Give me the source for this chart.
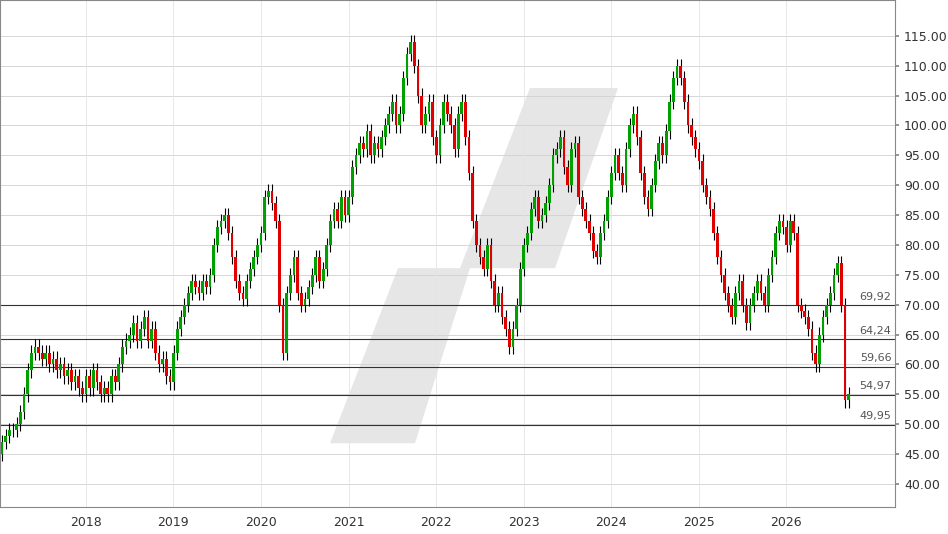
import numpy as np, pandas as pd, seaborn as sns, matplotlib
matplotlib.use("Agg")
import matplotlib.pyplot as plt
from matplotlib.patches import Polygon

# half-monthly closes, 2017 .. 2026
closes_2017 = [43,45,47,48,49,49,50,52,55,59,62,63,62,61,62,60,61,59,60,58,59,57,58,56]
closes_2018 = [55,58,56,59,57,55,56,55,58,57,60,63,64,65,67,64,66,68,64,66,62,60,61,58]
closes_2019 = [57,62,66,68,70,72,74,73,72,74,73,75,80,83,84,85,82,78,74,72,71,74,76,78]
closes_2020 = [80,82,88,89,87,84,70,62,72,75,78,72,70,71,73,75,78,74,76,80,84,86,84,88]
closes_2021 = [85,88,93,95,97,96,99,95,97,96,98,100,102,104,100,102,108,112,114,110,105,100,102,104]
closes_2022 = [98,95,100,104,102,100,96,102,104,98,92,84,80,78,76,80,74,70,72,68,66,63,66,70]
closes_2023 = [76,80,82,86,88,84,85,87,90,95,96,98,93,90,96,97,88,86,84,82,79,78,82,84]
closes_2024 = [88,92,95,92,90,96,100,102,98,92,88,86,90,94,97,95,99,104,108,110,108,104,100,98]
closes_2025 = [96,94,90,88,86,82,78,75,72,70,68,72,74,70,67,70,72,74,72,70,75,78,82,84]
closes_2026 = [83,80,84,82,70,69,68,66,62,60,65,68,70,72,75,77,70,54,55]
closes = (closes_2017 + closes_2018 + closes_2019 + closes_2020 + closes_2021 + closes_2022
          + closes_2023 + closes_2024 + closes_2025 + closes_2026)
levels = [69.92, 64.24, 59.66, 54.97, 49.95]
level_labels = ["69,92", "64,24", "59,66", "54,97", "49,95"]
years = list(range(2018, 2027))
yticks = list(range(40, 116, 5))

sns.set_theme(style="white")
fig = plt.figure(figsize=(9.48, 5.34), dpi=100)
ax = fig.add_axes([0.0, 0.05, 895/948, 0.95])

n = len(closes)
dt = 1 / 24
x = 2016.96 + np.arange(n) * dt
c = np.array(closes, float)
o = np.r_[c[0] - 1, c[:-1]]
hi = np.maximum(o, c) + 1.2
lo = np.minimum(o, c) - 1.2
up = c >= o
ax.vlines(x, lo, hi, color="black", lw=0.8, zorder=3)
ax.bar(x, c - o, bottom=o, width=dt * 0.75, color=np.where(up, "#00a000", "#e00000"),
       edgecolor="none", zorder=4)

# watermark
for pts in [[(330, 443), (415, 443), (470, 268), (398, 268)],
            [(460, 268), (555, 268), (618, 88), (530, 88)]]:
    ax.add_patch(Polygon([(px / 895, 1 - py / 507) for px, py in pts], closed=True,
                         transform=ax.transAxes, color="#e6e6e6", zorder=0, lw=0))

for y in yticks:
    ax.axhline(y, color="#d0d0d0", lw=0.6, zorder=1)
for yr in years:
    ax.axvline(yr, color="#e4e4e4", lw=0.6, zorder=1)
for lv, lb in zip(levels, level_labels):
    ax.axhline(lv, color="#333333", lw=0.8, zorder=2)
    ax.text(2027.2, lv + 0.6, lb, ha="right", va="bottom", fontsize=8, color="#555555", zorder=5)

ax.set_xlim(2017.02, 2027.24)
ax.set_ylim(36.1, 121)
ax.yaxis.tick_right()
ax.set_yticks(yticks)
ax.set_yticklabels([f"{v:.2f}" for v in yticks], fontsize=9, color="#333333")
ax.set_xticks(years)
ax.set_xticklabels([str(v) for v in years], fontsize=9, color="#333333")
ax.tick_params(axis="both", length=3, color="#888888")
for s in ax.spines.values():
    s.set_color("#888888"); s.set_linewidth(0.8)
fig.savefig("out.png", dpi=100)
